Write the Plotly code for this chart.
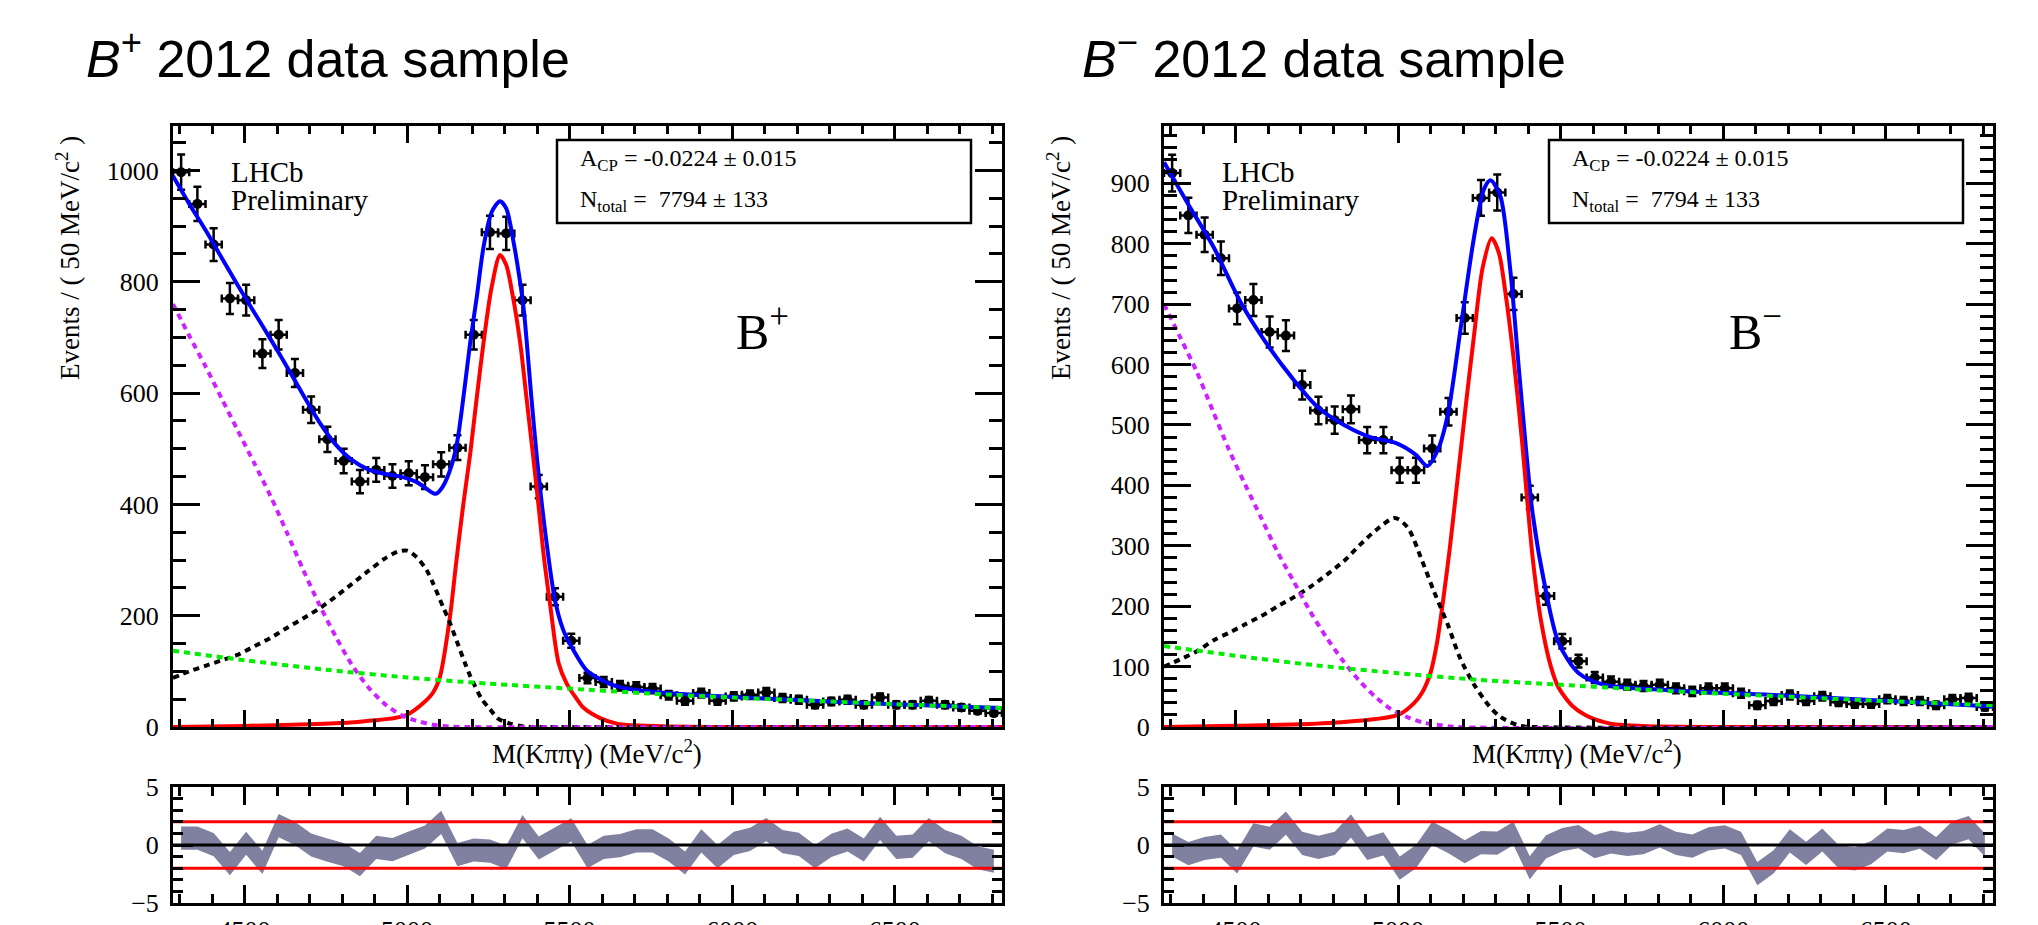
import numpy as np
import plotly.graph_objects as go

W, H = 2038, 925
PAGE_OFFSET = 8  # default body margin of the written page

# ---------------- data ----------------
bin_centers = [4305, 4355, 4405, 4455, 4505, 4555, 4605, 4655, 4705, 4755,
               4805, 4855, 4905, 4955, 5005, 5055, 5105, 5155, 5205, 5255,
               5305, 5355, 5405, 5455, 5505, 5555, 5605, 5655, 5705, 5755,
               5805, 5855, 5905, 5955, 6005, 6055, 6105, 6155, 6205, 6255,
               6305, 6355, 6405, 6455, 6505, 6555, 6605, 6655, 6705, 6755, 6805]
bin_half_width = 25

# B+ sample
bp_counts = [997, 940, 867, 770, 767, 671, 705, 636, 570, 517,
             478, 441, 462, 451, 456, 449, 472, 502, 705, 889,
             887, 767, 432, 234, 155, 88, 81, 74, 72, 69,
             57, 47, 61, 47, 55, 58, 62, 52, 49, 40,
             46, 49, 40, 53, 40, 40, 47, 40, 35, 29, 25]
bp_pull = [0.6, 0.6, 0.03, -1.6, 0.15, -1.5, 1.67, 1.0, 0.0, -0.45,
           -0.83, -1.7, -0.2, -0.4, 0.17, 0.69, 1.95, -0.83, -0.43, -0.52,
           -1.07, 1.58, -0.26, 0.49, 1.3, -1.0, -0.2, -0.06, 0.35, 0.35,
           -0.43, -1.55, 0.35, -1.0, 0.14, 0.49, 1.33, 0.29, 0.06, -1.0,
           -0.03, 0.43, -0.43, 1.44, -0.2, -0.1, 1.33, 0.29, -0.2, -1.1, -1.4]
bp_fit_x = [4280, 4330, 4380, 4430, 4480, 4530, 4580, 4630, 4680, 4730,
            4780, 4830, 4880, 4930, 4980, 5030, 5060, 5088, 5110, 5137,
            5155, 5175, 5194, 5215, 5235, 5260, 5286, 5305, 5328, 5345,
            5359, 5383, 5400, 5425, 5455, 5480, 5506, 5552, 5600, 5645,
            5700, 5800, 5900, 6000, 6250, 6500, 6830]
bp_fit_y = [990, 940, 893, 843, 793, 745, 697, 648, 597, 548,
            508, 480, 463, 455, 450, 440, 428, 419, 432, 470,
            515, 600, 690, 775, 862, 925, 945, 932, 870, 810,
            750, 588, 480, 350, 228, 175, 144, 102, 84, 73,
            67, 61, 57, 54, 47, 41, 34]
bp_sig_x = [4280, 4500, 4700, 4825, 4900, 4960, 5000, 5050, 5080, 5101,
            5132, 5150, 5174, 5194, 5212, 5235, 5260, 5286, 5305, 5325,
            5348, 5368, 5389, 5404, 5420, 5440, 5466, 5491, 5520, 5542,
            5594, 5645, 5697, 5800, 6000, 6830]
bp_sig_y = [0, 2, 5, 8, 12, 16, 22, 43, 62, 90,
            198, 290, 405, 490, 580, 690, 790, 848, 830, 775,
            690, 588, 480, 400, 310, 220, 115, 78, 52, 35,
            16, 6, 3, 1, 0, 0]
bp_prc_x = [4280, 4330, 4380, 4430, 4480, 4530, 4580, 4630, 4680, 4730,
            4780, 4830, 4880, 4930, 4970, 5000, 5030, 5060, 5080, 5112,
            5130, 5153, 5180, 5194, 5230, 5255, 5280, 5317, 5350, 5380,
            5450, 6830]
bp_prc_y = [88, 100, 110, 120, 130, 145, 160, 178, 195, 213,
            234, 257, 280, 302, 315, 317, 305, 282, 258, 214,
            190, 154, 112, 92, 50, 32, 15, 6, 2, 0,
            0, 0]
bp_mis_x = [4280, 4330, 4380, 4430, 4480, 4530, 4580, 4630, 4680, 4730,
            4780, 4830, 4880, 4930, 4980, 5030, 5080, 5130, 5180, 6830]
bp_mis_y = [760, 703, 648, 590, 532, 474, 415, 350, 283, 220,
            163, 112, 72, 42, 22, 11, 4, 1, 0, 0]
bp_comb_x = [4280, 4500, 4750, 5000, 5250, 5500, 5750, 6000, 6250, 6500, 6830]
bp_comb_y = [137, 120, 103, 89, 78, 69, 60, 53, 47, 41, 34]

# B- sample
bm_counts = [917, 847, 815, 776, 693, 707, 654, 648, 566, 524,
             508, 526, 475, 475, 425, 425, 461, 522, 677, 876,
             885, 717, 380, 217, 142, 109, 82, 75, 70, 68,
             70, 64, 59, 64, 64, 56, 36, 43, 53, 43,
             51, 41, 38, 38, 46, 43, 43, 36, 46, 48, 33]
bm_pull = [0.0, -0.75, -0.3, -0.1, -1.45, 0.87, 0.58, 1.88, 0.14, -0.2,
           0.14, 1.65, -0.3, 0.09, -2.0, -1.0, 1.0, 0.29, -0.58, 0.2,
           0.17, 1.0, -1.97, -0.17, 0.46, 0.72, -0.14, 0.26, 0.05, 0.2,
           0.78, 0.14, -0.1, 0.52, 0.7, 0.14, -2.46, -1.45, 0.35, -0.72,
           0.43, -1.0, -1.2, -0.65, 0.43, 0.29, 0.67, -0.3, 1.04, 1.5, 0.0]
bm_fit_x = [4280, 4354, 4434, 4514, 4594, 4674, 4754, 4834, 4914, 4994,
            5054, 5090, 5124, 5154, 5194, 5234, 5264, 5284, 5314, 5344,
            5374, 5414, 5454, 5494, 5554, 5634, 5834, 6234, 6830]
bm_fit_y = [935, 866, 793, 705, 636, 578, 529, 500, 480, 470,
            451, 432, 461, 520, 666, 812, 890, 905, 880, 763,
            578, 353, 227, 139, 90, 70, 61, 51, 34]
bm_sig_x = [4280, 4500, 4800, 5000, 5050, 5075, 5100, 5120, 5138, 5160,
            5185, 5210, 5234, 5260, 5288, 5310, 5330, 5354, 5380, 5414,
            5440, 5470, 5494, 5540, 5594, 5650, 5700, 5800, 6000, 6830]
bm_sig_y = [0, 2, 7, 20, 40, 58, 90, 140, 207, 300,
            420, 540, 650, 760, 809, 785, 720, 617, 480, 280,
            175, 100, 65, 33, 15, 6, 3, 1, 0, 0]
bm_prc_x = [4280, 4330, 4380, 4434, 4480, 4530, 4594, 4630, 4680, 4730,
            4780, 4834, 4880, 4930, 4990, 5030, 5074, 5110, 5154, 5190,
            5234, 5280, 5314, 5374, 5420, 6830]
bm_prc_y = [100, 112, 125, 144, 156, 170, 188, 200, 215, 232,
            252, 275, 300, 325, 346, 330, 275, 225, 168, 115,
            70, 35, 17, 2, 0, 0]
bm_mis_x = [4280, 4330, 4380, 4430, 4480, 4530, 4580, 4630, 4680, 4730,
            4780, 4830, 4880, 4930, 4980, 5030, 5080, 5130, 5180, 6830]
bm_mis_y = [700, 645, 589, 524, 459, 401, 345, 289, 240, 191,
            148, 110, 77, 50, 29, 16, 7, 3, 0, 0]
bm_comb_x = [4280, 4500, 4750, 5000, 5250, 5500, 5750, 6000, 6250, 6500, 6830]
bm_comb_y = [134, 118, 102, 89, 78, 70, 62, 55, 49, 43, 36]

pull_err = 1.0
pull_band_limit = 2
x_range = [4280, 6830]
bp_y_range = [0, 1080]
bm_y_range = [0, 995]
pull_range = [-5, 5]

acp_text = "A<sub>CP</sub> = -0.0224 ± 0.015"
ntot_text = "N<sub>total</sub> =&nbsp; 7794 ± 133"

# ---------------- style ----------------
SERIF = "Liberation Serif, Times New Roman, serif"
SANS = "Liberation Sans, Arial, sans-serif"
BLUE, RED, GREEN, MAG = "#0000ff", "#ff0000", "#00ee00", "#cc22ff"
BAND = "rgb(128,128,160)"


def px(x):
    return (x - PAGE_OFFSET) / W


def py(y):
    return 1 - (y - PAGE_OFFSET) / H


fig = go.Figure()


def add_panel(xa, ya, xr, yr, counts, fit, sig, prc, mis, comb, pull):
    fig.add_trace(go.Scatter(
        x=bin_centers, y=counts, mode="markers", xaxis=xa, yaxis=ya,
        marker=dict(color="black", size=10),
        error_y=dict(type="data", array=np.sqrt(np.array(counts, float)),
                     color="black", thickness=2.5, width=4),
        error_x=dict(type="constant", value=bin_half_width,
                     color="black", thickness=2.5, width=4),
        showlegend=False))
    fig.add_trace(go.Scatter(x=fit[0], y=fit[1], mode="lines", xaxis=xa, yaxis=ya,
                             line=dict(color=BLUE, width=4, shape="spline", smoothing=0.8),
                             showlegend=False))
    fig.add_trace(go.Scatter(x=sig[0], y=sig[1], mode="lines", xaxis=xa, yaxis=ya,
                             line=dict(color=RED, width=4, shape="spline", smoothing=0.8),
                             showlegend=False))
    for comp, col in ((prc, "black"), (mis, MAG), (comb, GREEN)):
        fig.add_trace(go.Scatter(x=comp[0], y=comp[1], mode="lines", xaxis=xa, yaxis=ya,
                                 line=dict(color=col, width=4, dash="6px,5px",
                                           shape="spline", smoothing=0.8),
                                 showlegend=False))
    up = [p + pull_err for p in pull]
    lo = [p - pull_err for p in pull]
    fig.add_trace(go.Scatter(x=bin_centers + bin_centers[::-1], y=up + lo[::-1],
                             mode="lines", fill="toself", fillcolor=BAND,
                             line=dict(width=0, color=BAND), xaxis=xr, yaxis=yr,
                             showlegend=False))
    for yv, col in ((pull_band_limit, RED), (-pull_band_limit, RED), (0, "black")):
        fig.add_trace(go.Scatter(x=x_range, y=[yv, yv], mode="lines", xaxis=xr, yaxis=yr,
                                 line=dict(color=col, width=3), showlegend=False))


add_panel("x", "y", "x2", "y2", bp_counts, (bp_fit_x, bp_fit_y), (bp_sig_x, bp_sig_y),
          (bp_prc_x, bp_prc_y), (bp_mis_x, bp_mis_y), (bp_comb_x, bp_comb_y), bp_pull)
add_panel("x3", "y3", "x4", "y4", bm_counts, (bm_fit_x, bm_fit_y), (bm_sig_x, bm_sig_y),
          (bm_prc_x, bm_prc_y), (bm_mis_x, bm_mis_y), (bm_comb_x, bm_comb_y), bm_pull)

tickfont = dict(family=SERIF, size=26, color="black")


def xaxis(dom, anchor, labels, majlen, minlen):
    return dict(domain=dom, anchor=anchor, range=x_range, tickmode="linear", tick0=0, dtick=500,
                ticks="inside", ticklen=majlen, tickwidth=2.5, tickcolor="black",
                showline=True, linewidth=3, linecolor="black", mirror="allticks",
                showgrid=False, zeroline=False, showticklabels=labels, tickfont=tickfont,
                ticklabelstandoff=2, automargin=False,
                minor=dict(dtick=100, ticks="inside", ticklen=minlen, tickwidth=2.5,
                           tickcolor="black", showgrid=False))


def yaxis(dom, anchor, rng, dtick, minor, majlen, minlen):
    return dict(domain=dom, anchor=anchor, range=rng, tickmode="linear", tick0=0, dtick=dtick,
                ticks="inside", ticklen=majlen, tickwidth=2.5, tickcolor="black",
                showline=True, linewidth=3, linecolor="black", mirror="allticks",
                showgrid=False, zeroline=False, tickfont=tickfont, ticklabelstandoff=6,
                automargin=False,
                minor=dict(dtick=minor, ticks="inside", ticklen=minlen, tickwidth=2.5,
                           tickcolor="black", showgrid=False))


L_dom = [px(173), px(1002)]
R_dom = [px(1164), px(1993)]
main_dom = [py(727), py(126)]
res_dom = [py(903), py(787)]

fig.update_layout(
    width=W, height=H, margin=dict(l=0, r=0, t=0, b=0, autoexpand=False),
    paper_bgcolor="white", plot_bgcolor="white", showlegend=False,
    xaxis=xaxis(L_dom, "y", False, 17, 8),
    yaxis=yaxis(main_dom, "x", bp_y_range, 200, 50, 27, 13),
    xaxis2=xaxis(L_dom, "y2", True, 18, 9),
    yaxis2=yaxis(res_dom, "x2", pull_range, 5, 1, 20, 10),
    xaxis3=xaxis(R_dom, "y3", False, 17, 8),
    yaxis3=yaxis(main_dom, "x3", bm_y_range, 100, 20, 27, 13),
    xaxis4=xaxis(R_dom, "y4", True, 18, 9),
    yaxis4=yaxis(res_dom, "x4", pull_range, 5, 1, 20, 10),
)

ann = []
shapes = []
for (x0, title, sign, ylab_x, box, sym_x, lx, cx) in (
        (84, "<i>B</i><sup>+</sup> 2012 data sample", "+", 68, (557, 971), 734, 229, 597),
        (1080, "<i>B</i><sup>−</sup> 2012 data sample", "−", 1059, (1549, 1963), 1727, 1220, 1577)):
    ann.append(dict(x=px(x0), y=py(55), xref="paper", yref="paper",
                    text=title, showarrow=False, xanchor="left", yanchor="middle",
                    font=dict(family=SANS, size=52, color="black")))
    ann.append(dict(x=px(ylab_x), y=py(258), xref="paper", yref="paper",
                    text="Events / ( 50 MeV/c<sup>2</sup> )", textangle=-90, showarrow=False,
                    xanchor="center", yanchor="middle",
                    font=dict(family=SERIF, size=27, color="black")))
    ann.append(dict(x=px(lx), y=py(172), xref="paper", yref="paper", text="LHCb",
                    showarrow=False, xanchor="left", yanchor="middle",
                    font=dict(family=SERIF, size=29, color="black")))
    ann.append(dict(x=px(lx), y=py(200), xref="paper", yref="paper", text="Preliminary",
                    showarrow=False, xanchor="left", yanchor="middle",
                    font=dict(family=SERIF, size=29, color="black")))
    shapes.append(dict(type="rect", xref="paper", yref="paper",
                       x0=px(box[0]), x1=px(box[1]), y0=py(223), y1=py(140),
                       line=dict(color="black", width=2.5), fillcolor="white", layer="above"))
    ann.append(dict(x=px(box[0] + 21), y=py(160), xref="paper", yref="paper", text=acp_text,
                    showarrow=False, xanchor="left", yanchor="middle",
                    font=dict(family=SERIF, size=24, color="black")))
    ann.append(dict(x=px(box[0] + 21), y=py(201), xref="paper", yref="paper", text=ntot_text,
                    showarrow=False, xanchor="left", yanchor="middle",
                    font=dict(family=SERIF, size=24, color="black")))
    ann.append(dict(x=px(sym_x), y=py(328), xref="paper", yref="paper",
                    text="B<sup>" + sign + "</sup>", showarrow=False,
                    xanchor="left", yanchor="middle",
                    font=dict(family=SERIF, size=50, color="black")))
    ann.append(dict(x=px(cx), y=py(752), xref="paper", yref="paper",
                    text="M(Kππγ) (MeV/c<sup>2</sup>)", showarrow=False,
                    xanchor="center", yanchor="middle",
                    font=dict(family=SERIF, size=27, color="black")))

fig.update_layout(annotations=ann, shapes=shapes)
fig.write_html("out.html")
